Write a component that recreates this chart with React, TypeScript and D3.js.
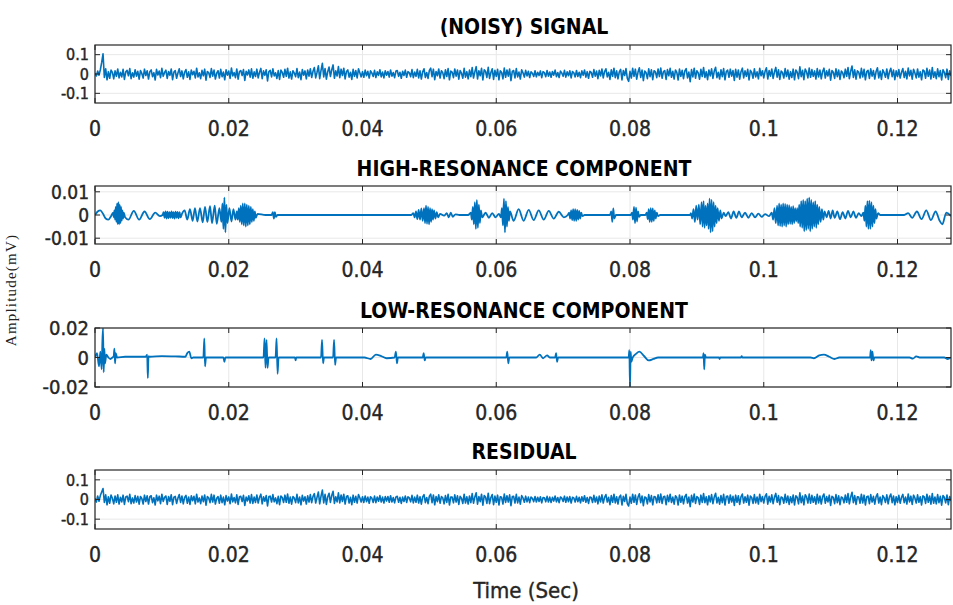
import React from "react";
import * as d3 from "d3";

// time axis (seconds)
const xTicks = [0, 0.02, 0.04, 0.06, 0.08, 0.1, 0.12];
const xTickLabels = ["0", "0.02", "0.04", "0.06", "0.08", "0.1", "0.12"];
const tMax = 0.128;
const sampleStep = 0.0002; // s, grid of the two noisy traces

// (noisy) signal, 1e-3 mV per unit
const noisySignal = [
  4, -10, 15, -6, 22, 60, 104, -18, 27, -30, 12, -22, 20, 8, -25, 16, -12, 26, -20, 9,
  -15, 24, -28, 11, 19, -9, 28, -24, 6, -16, 22, -11, 14, -27, 18, 3, -21, 25, -8, 17,
  -26, 12, 21, -14, 7, -31, 24, -5, 15, -19, 29, -12, 8, 20, -23, 13, -7, 26, -29, 10,
  18, -22, 5, 27, -13, 16, -25, 9, 23, -17, 11, -28, 21, -4, 14, -20, 30, -15, 6, -24,
  19, -9, 25, -32, 13, 7, -18, 28, -11, 20, -26, 4, 17, -21, 24, -14, 10, -30, 22, -6,
  15, -23, 31, -10, 8, -19, 26, -27, 12, 18, -8, 23, -33, 14, -5, 21, -16, 27, -22, 11,
  -13, 25, -20, 9, 29, -24, 16, -7, 22, -36, 13, 19, -15, 27, -10, 6, -23, 18, -28, 20,
  8, -17, 24, -12, 30, -21, 11, -26, 17, 5, -14, 28, -19, 10, -29, 23, -6, 16, -25, 21,
  -11, 27, -18, 14, 33, -20, 9, 42, -24, 19, 55, -15, 28, -27, 12, 36, -13, 22, 47, -22,
  16, -10, 38, -19, 25, -8, 30, -25, 13, 21, -16, 9, -28, 24, -12, 18, -20, 27, 7, -15,
  12, -17, 20, -9, 14, -21, 16, 5, -13, 19, -18, 11, -7, 22, -15, 10, -20, 17, -6, 13,
  -16, 21, -11, 8, -19, 15, 18, -12, 9, -22, 14, -8, 20, -17, 12, 6, -14, 23, -19, 10,
  -12, 24, -20, 16, -26, 11, 27, -18, 8, -23, 19, 30, -14, 25, -29, 13, -9, 26, -21, 17,
  7, -24, 22, -13, 28, -30, 15, 10, -19, 26, -11, 21, -27, 18, 4, -22, 29, -16, 12, -25,
  20, -14, 33, -21, 11, 38, -26, 17, -9, 29, -31, 22, 14, -18, 35, -23, 8, 27, -28, 19,
  -12, 24, -30, 16, 9, -25, 31, -17, 21, -11, 26, -34, 13, 18, -20, 28, -15, 10, -26, 22,
  6, -16, 19, -10, 14, -18, 11, 4, -13, 17, -15, 9, -8, 16, -19, 12, 7, -14, 18, -11,
  10, -17, 13, -6, 20, -14, 8, -18, 15, 5, -12, 19, -16, 11, -9, 17, -20, 13, 6, -15,
  18, -13, 9, -19, 16, -7, 21, -16, 12, -22, 14, 8, -17, 23, -11, 15, -24, 19, -10, 26,
  -20, 13, 27, -15, 9, -28, 22, -12, 30, -19, 16, -25, 11, 24, -31, 18, -8, 28, -23, -38,
  14, -21, 29, -12, 25, -27, 10, 32, -18, 20, -34, 15, 7, -24, 27, -14, 22, -29, 17, 11,
  -19, 26, -13, 31, -22, 12, 18, -28, 23, -9, 29, -17, 14, -26, 21, 8, -31, 25, -12, 19,
  -24, 16, 28, -20, 10, -40, 23, -15, 30, -22, 17, 6, -27, 24, -13, 33, -18, 12, -29, 21,
  -10, 27, -23, 15, 35, -19, 9, -26, 22, -14, 28, -30, 13, 20, -17, 25, -11, 18, -33, 24,
  -16, 21, -27, 12, 30, -20, 16, -12, 24, -31, 19, 8, -22, 27, -15, 11, -25, 29, -9, 17,
  -20, 14, 32, -26, 18, -11, 26, -23, 10, 34, -16, 22, -28, 15, 7, -21, 28, -13, 20, -27,
  12, -18, 25, -30, 21, 9, -24, 37, -14, 19, -29, 26, 11, -20, 31, -17, 23, -12, 16, -26,
  28, -15, 20, -25, 13, 30, -21, 17, -10, 24, -32, 18, 9, -23, 27, -14, 21, -28, 15, 6,
  -19, 25, -12, 33, -24, 14, 41, -18, 22, -27, 16, 10, -21, 29, -15, 24, -30, 12, 19, -23,
  27, -11, 18, -26, 13, 32, -20, 15, -28, 22, 7, -17, 26, -24, 11, 30, -14, 20, -29, 16,
  -13, 23, -21, 9, 28, -18, 14, -25, 31, -10, 19, -27, 24, 6, -20, 26, -16, 12, -30, 21,
  15, -22, 29, -12, 20, -26, 33, -17, 11, -24, 27, -14, 18, -31, 22, 9, -19, 25, -28, 17,
  -10,
];

// residual, 1e-3 mV per unit
const residual = [
  6, -13, 18, -9, 20, 38, 56, -15, 24, -27, 14, -19, 23, 6, -22, 18, -14, 24, -23, 11,
  -12, 22, -25, 13, 17, -11, 26, -21, 8, -18, 20, -13, 16, -24, 15, 5, -23, 22, -10, 19,
  -23, 14, 19, -16, 9, -28, 22, -7, 17, -21, 27, -10, 11, 18, -25, 15, -9, 24, -26, 12,
  16, -20, 7, 25, -15, 18, -22, 11, 21, -19, 13, -25, 19, -6, 16, -22, 27, -13, 8, -21,
  17, -11, 23, -29, 15, 9, -16, 26, -13, 22, -23, 6, 15, -19, 22, -16, 12, -27, 20, -8,
  13, -21, 28, -12, 10, -17, 24, -25, 14, 16, -10, 21, -30, 12, -7, 19, -18, 25, -20, 13,
  -15, 23, -18, 11, 27, -22, 14, -9, 20, -33, 15, 17, -13, 25, -12, 8, -21, 16, -26, 18,
  10, -15, 22, -14, 28, -19, 13, -24, 15, 7, -16, 26, -17, 12, -27, 21, -8, 14, -23, 19,
  -13, 25, -16, 16, 30, -18, 11, 38, -22, 17, 48, -17, 26, -25, 14, 32, -15, 20, 42, -20,
  14, -12, 34, -17, 23, -10, 27, -23, 15, 19, -18, 11, -26, 22, -14, 16, -18, 25, 9, -13,
  14, -15, 18, -11, 12, -19, 14, 7, -15, 17, -16, 13, -9, 20, -13, 12, -18, 15, -8, 15,
  -14, 19, -13, 10, -17, 13, 16, -14, 11, -20, 12, -10, 18, -15, 14, 8, -12, 21, -17, 12,
  -14, 22, -18, 14, -24, 13, 25, -16, 10, -21, 17, 27, -16, 23, -27, 15, -11, 24, -19, 15,
  9, -22, 20, -15, 26, -28, 13, 12, -17, 24, -13, 19, -25, 16, 6, -20, 27, -18, 14, -23,
  18, -16, 30, -19, 13, 34, -24, 15, -11, 27, -29, 20, 12, -20, 32, -21, 10, 25, -26, 17,
  -14, 22, -28, 14, 11, -23, 28, -15, 19, -13, 24, -31, 15, 16, -18, 26, -17, 12, -24, 20,
  8, -14, 17, -12, 12, -16, 13, 6, -11, 15, -13, 11, -10, 14, -17, 10, 9, -12, 16, -13,
  12, -15, 11, -8, 18, -12, 10, -16, 13, 7, -10, 17, -14, 13, -11, 15, -18, 11, 8, -13,
  16, -11, 11, -17, 14, -9, 19, -14, 10, -20, 12, 10, -15, 21, -13, 13, -22, 17, -12, 24,
  -18, 11, 25, -13, 11, -26, 20, -14, 27, -17, 14, -23, 13, 22, -28, 16, -10, 26, -21, -33,
  12, -19, 27, -14, 23, -25, 12, 29, -16, 18, -31, 13, 9, -22, 25, -12, 20, -27, 15, 13,
  -17, 24, -15, 28, -20, 14, 16, -26, 21, -11, 27, -15, 12, -24, 19, 10, -28, 23, -14, 17,
  -22, 14, 26, -18, 12, -36, 21, -13, 28, -20, 15, 8, -25, 22, -15, 30, -16, 14, -27, 19,
  -12, 25, -21, 13, 32, -17, 11, -24, 20, -16, 26, -28, 15, 18, -19, 23, -13, 16, -30, 22,
  -14, 19, -25, 14, 28, -18, 14, -14, 22, -29, 17, 10, -20, 25, -17, 13, -23, 27, -11, 15,
  -18, 16, 29, -24, 16, -13, 24, -21, 12, 31, -14, 20, -26, 13, 9, -19, 26, -15, 18, -25,
  14, -16, 23, -28, 19, 11, -22, 34, -16, 17, -27, 24, 13, -18, 28, -19, 21, -14, 14, -24,
  26, -17, 18, -23, 15, 28, -19, 15, -12, 22, -30, 16, 11, -21, 25, -16, 19, -26, 13, 8,
  -17, 23, -14, 30, -22, 12, 37, -16, 20, -25, 14, 12, -19, 27, -17, 22, -28, 14, 17, -21,
  25, -13, 16, -24, 15, 29, -18, 13, -26, 20, 9, -15, 24, -22, 13, 28, -16, 18, -27, 14,
  -15, 21, -19, 11, 26, -16, 12, -23, 28, -12, 17, -25, 22, 8, -18, 24, -14, 14, -28, 19,
  13, -20, 27, -14, 18, -24, 30, -19, 13, -22, 25, -16, 16, -29, 20, 11, -17, 23, -26, 15,
  -8,
];

// high-resonance component: [time ms, value 1e-4 mV]
const highResonance: [number, number][] = [
  [0, 0], [0.4, 15], [0.8, 20], [1.2, 5], [1.6, -15], [2.0, -20], [2.4, -5],
  [2.7, 10], [2.8, -10], [2.9, 20], [3.0, -20], [3.1, 35], [3.2, -30], [3.3, 50], [3.4, -40], [3.5, 55],
  [3.6, -40], [3.7, 45], [3.8, -35], [3.9, 35], [4.0, -25], [4.1, 20], [4.2, -15], [4.3, 10], [4.5, -10],
  [5.0, -20], [5.8, 18], [6.6, -20], [7.4, 15], [8.2, -18], [9.0, 10], [9.7, -5],
  [10.1, 0], [10.25, 12], [10.4, -12], [10.55, 15], [10.7, -15], [10.85, 14], [11.0, -14], [11.15, 12],
  [11.3, -12], [11.45, 15], [11.6, -13], [11.75, 12], [11.9, -15], [12.05, 14], [12.2, -12], [12.35, 13],
  [12.5, -14], [12.65, 12], [12.8, -10], [13.0, 5],
  [13.4, 20], [13.8, -20], [14.2, 25], [14.6, -25], [14.95, 30], [15.3, -28], [15.7, 30], [16.1, -32],
  [16.45, 35], [16.8, -30], [17.2, 38], [17.5, -35], [17.9, 40], [18.2, -38], [18.6, 30],
  [18.9, -30], [19.05, 50], [19.2, -60], [19.35, 75], [19.5, -75], [19.65, 45], [19.8, -35],
  [20.1, 30], [20.4, -28], [20.7, 25], [21.0, -20],
  [21.2, 15], [21.35, -20], [21.5, 30], [21.65, -30], [21.8, 40], [21.95, -40], [22.1, 50], [22.25, -45],
  [22.4, 50], [22.55, -50], [22.7, 45], [22.85, -45], [23.0, 40], [23.15, -40], [23.3, 35], [23.45, -30],
  [23.6, 25], [23.75, -25], [23.9, 15], [24.05, -12], [24.3, 5],
  [25.5, 0], [26.4, 0], [26.6, 12], [26.75, -15], [26.9, 12], [27.05, -8], [27.3, 0],
  [47.3, 0],
  [47.6, 8], [47.8, -10], [48.0, 15], [48.2, -18], [48.4, 22], [48.6, -20], [48.8, 28], [49.0, -25],
  [49.2, 30], [49.35, -35], [49.5, 40], [49.65, -38], [49.8, 35], [49.95, -40], [50.1, 30], [50.25, -30],
  [50.4, 25], [50.55, -20], [50.7, 20], [50.9, -15], [51.1, 12], [51.3, -10], [51.6, 5],
  [52.2, -3], [52.6, 8], [52.9, -10], [53.2, 10], [53.5, -8], [53.9, 3], [54.5, 0], [55.8, 0],
  [56.2, 10], [56.35, -20], [56.5, 35], [56.65, -40], [56.8, 55], [56.95, -60], [57.1, 65], [57.25, -55],
  [57.4, 45], [57.55, -35], [57.7, 20], [57.9, -10],
  [58.4, 10], [58.9, -12], [59.4, 8], [59.9, -10], [60.4, 5],
  [60.7, -10], [60.85, 30], [61.0, -45], [61.15, 70], [61.3, -75], [61.45, 60], [61.6, -50], [61.75, 35],
  [61.9, -25], [62.05, 15],
  [62.6, -25], [63.35, 25], [64.1, -25], [64.85, 22], [65.6, -22], [66.35, 20], [67.1, -20], [67.85, 18],
  [68.6, -16], [69.35, 14], [70.1, -10], [70.7, 0],
  [70.9, 10], [71.05, -15], [71.2, 20], [71.35, -22], [71.5, 25], [71.65, -25], [71.8, 25], [71.95, -25],
  [72.1, 22], [72.25, -20], [72.4, 18], [72.55, -15], [72.7, 10], [72.9, -5], [73.2, 0],
  [77.0, 0], [77.2, 15], [77.35, -30], [77.5, 28], [77.65, -15], [77.9, 0],
  [80.1, 0], [80.3, 10], [80.45, -20], [80.6, 35], [80.75, -35], [80.9, 32], [81.05, -28], [81.2, 15],
  [81.35, -8], [81.6, 0],
  [82.3, 0], [82.5, 10], [82.65, -18], [82.8, 25], [82.95, -30], [83.1, 30], [83.25, -30], [83.4, 28],
  [83.55, -25], [83.7, 20], [83.85, -15], [84.0, 10], [84.2, -5], [84.5, 0],
  [89.0, 0], [89.1, 8], [89.3, -15], [89.5, 25], [89.7, -30], [89.9, 40], [90.1, -20], [90.3, 45],
  [90.5, -40], [90.7, 55], [90.85, -50], [91.0, 60], [91.15, -55], [91.3, 40], [91.45, -45], [91.6, 50],
  [91.75, -60], [91.9, 70], [92.05, -75], [92.2, 65], [92.35, -70], [92.5, 55], [92.65, -50], [92.8, 40],
  [92.95, -35], [93.1, 30], [93.3, -25], [93.5, 20], [93.7, -15], [94.0, 10], [94.3, -5],
  [94.7, 12], [95.1, -15], [95.5, 15], [95.9, -12], [96.3, 15], [96.7, -10], [97.2, 10], [97.7, -12],
  [98.2, 8], [98.7, -10], [99.2, 6], [99.7, -8], [100.2, 4],
  [100.8, -5], [101.2, 10], [101.4, -20], [101.6, 30], [101.8, -35], [102.0, 40], [102.15, -45], [102.3, 50],
  [102.45, -48], [102.6, 45], [102.75, -50], [102.9, 50], [103.05, -45], [103.2, 48], [103.35, -50],
  [103.5, 45], [103.65, -40], [103.8, 42], [103.95, -38], [104.1, 35], [104.25, -40], [104.4, 38],
  [104.55, -35], [104.7, 30], [104.85, -28],
  [105.0, 30], [105.15, -35], [105.3, 45], [105.45, -50], [105.6, 60], [105.75, -55], [105.9, 65],
  [106.05, -70], [106.2, 60], [106.35, -65], [106.5, 70], [106.65, -60], [106.8, 75], [106.95, -70],
  [107.1, 65], [107.25, -60], [107.4, 55], [107.55, -50], [107.7, 60], [107.85, -55], [108.0, 45],
  [108.15, -40], [108.3, 35], [108.5, -30], [108.7, 25], [108.9, -20], [109.1, 15], [109.4, -10],
  [109.7, 18], [110.0, -15], [110.3, 20], [110.6, -12], [111.0, 15], [111.4, -18], [111.8, 12],
  [112.2, -15], [112.6, 18], [113.0, -10], [113.4, 15], [113.8, -12], [114.2, 8], [114.6, -5],
  [114.9, 10], [115.05, -25], [115.2, 40], [115.35, -50], [115.5, 60], [115.65, -60], [115.8, 62],
  [115.95, -60], [116.1, 55], [116.25, -50], [116.4, 40], [116.55, -35], [116.7, 25], [116.85, -15],
  [117.1, 8], [117.4, 0],
  [121.0, 0], [121.6, 8], [122.2, -12], [122.9, 15], [123.6, -18], [124.3, 20], [125.0, -22],
  [125.7, 15], [126.3, -25], [126.7, -40], [127.3, 10], [128, -5],
];

// low-resonance component: [time ms, value 1e-4 mV]
const lowResonance: [number, number][] = [
  [0, 0], [0.3, 30], [0.6, -60], [0.8, 40], [1.0, -80], [1.1, 100], [1.2, 200], [1.3, -100], [1.4, 60],
  [1.5, -40], [1.7, 20], [2.0, 0], [2.3, -10], [2.6, 0], [2.8, 10], [2.9, 60], [3.0, -40], [3.1, 30],
  [3.3, 0], [4.5, 5], [7.6, 5], [7.8, 20], [7.9, -140], [8.0, 10], [8.2, 5], [10.0, 10], [12.0, 8],
  [13.5, 5], [13.8, 30], [14.1, 40], [14.4, -5], [14.7, 0], [16.2, 0], [16.35, 130], [16.45, -60],
  [16.6, 0], [19.2, 0], [19.35, -30], [19.5, 0], [25.2, 0], [25.35, 130], [25.5, -70], [25.65, 120],
  [25.8, -70], [25.95, 0], [27.0, 0], [27.15, 130], [27.3, -110], [27.45, 0], [29.9, 0], [30.0, -20],
  [30.1, 0], [33.8, 0], [33.95, 120], [34.1, -40], [34.25, 0], [35.6, 0], [35.75, 120], [35.9, -50],
  [36.05, 0], [40.3, 0], [41.2, -10], [42.0, 20], [42.8, 10], [43.6, -5], [44.8, 0], [45.0, 40],
  [45.15, -40], [45.3, 0], [49.0, 0], [49.15, 30], [49.3, -20], [49.45, 0], [61.5, 0], [61.65, 40],
  [61.8, -40], [61.95, 0], [66.0, 0], [66.5, 20], [67.0, -5], [67.6, 15], [68.0, 0], [68.8, 0],
  [68.95, 30], [69.1, -30], [69.25, 0], [79.8, 0], [79.9, 50], [80.0, -200], [80.1, 40], [80.2, -30],
  [80.4, 0], [80.9, 25], [81.4, 40], [82.1, 10], [82.8, -20], [83.5, -10], [84.2, 0], [90.9, 0],
  [91.0, 30], [91.1, -80], [91.2, 20], [91.35, 0], [93.3, 0], [93.4, -10], [93.5, 0], [96.6, 0],
  [96.7, 10], [96.8, 0], [107.0, 0], [107.5, -5], [108.3, 15], [109.0, 20], [109.8, 5], [110.6, -10],
  [111.3, 0], [115.9, 0], [116.0, 50], [116.1, -20], [116.25, 40], [116.4, -20], [116.55, 0],
  [121.8, 0], [122.3, -8], [122.8, 8], [123.3, 0], [127.0, 0], [127.5, -10], [128, 0],
];

const LINE = "#0072BD";
const AXIS = "#262626";
const FONT = "'Liberation Sans Narrow', 'DejaVu Sans Condensed', 'Liberation Sans', Arial, sans-serif";

const X_LEFT = 95;
const X_RIGHT = 951;

type PanelProps = {
  id: string;
  title: string;
  titleY: number;
  top: number;
  bottom: number;
  yDomain: [number, number];
  yTicks: number[];
  yTickLabels: string[];
  yLabelSize: number;
  data: [number, number][];
  smooth: boolean;
  lineWidth: number;
};

function Panel(props: PanelProps) {
  const { id, title, titleY, top, bottom, yDomain, yTicks, yTickLabels, yLabelSize, data, smooth, lineWidth } = props;
  const x = d3.scaleLinear().domain([0, tMax]).range([X_LEFT, X_RIGHT]);
  const y = d3.scaleLinear().domain(yDomain).range([bottom, top]);
  const line = d3
    .line<[number, number]>()
    .x((d) => x(d[0]))
    .y((d) => y(d[1]))
    .curve(smooth ? d3.curveMonotoneX : d3.curveLinear);
  const tick = 5;

  return (
    <g>
      <defs>
        <clipPath id={id}>
          <rect x={X_LEFT} y={top} width={X_RIGHT - X_LEFT} height={bottom - top} />
        </clipPath>
      </defs>
      <rect x={X_LEFT} y={top} width={X_RIGHT - X_LEFT} height={bottom - top} fill="#fff" />
      {/* light grid */}
      {xTicks.map((t) => (
        <line key={"gx" + t} x1={x(t)} x2={x(t)} y1={top} y2={bottom} stroke="#e8e8e8" strokeWidth={1} />
      ))}
      {yTicks.map((t) => (
        <line key={"gy" + t} x1={X_LEFT} x2={X_RIGHT} y1={y(t)} y2={y(t)} stroke="#e8e8e8" strokeWidth={1} />
      ))}
      <path d={line(data) || ""} fill="none" stroke={LINE} strokeWidth={lineWidth} strokeLinejoin="round" clipPath={`url(#${id})`} />
      <rect x={X_LEFT} y={top} width={X_RIGHT - X_LEFT} height={bottom - top} fill="none" stroke={AXIS} strokeWidth={1.2} />
      {xTicks.map((t) => (
        <g key={"tx" + t}>
          <line x1={x(t)} x2={x(t)} y1={bottom} y2={bottom - tick} stroke={AXIS} />
          <line x1={x(t)} x2={x(t)} y1={top} y2={top + tick} stroke={AXIS} />
        </g>
      ))}
      {yTicks.map((t) => (
        <g key={"ty" + t}>
          <line x1={X_LEFT} x2={X_LEFT + tick} y1={y(t)} y2={y(t)} stroke={AXIS} />
          <line x1={X_RIGHT} x2={X_RIGHT - tick} y1={y(t)} y2={y(t)} stroke={AXIS} />
        </g>
      ))}
      {xTicks.map((t, i) => (
        <text key={"lx" + t} x={x(t)} y={bottom + 33} textAnchor="middle" fontSize={21} fill={AXIS}
          stroke={AXIS} strokeWidth={0.4} fontFamily={FONT}>
          {xTickLabels[i]}
        </text>
      ))}
      {yTicks.map((t, i) => (
        <text key={"ly" + t} x={X_LEFT - 6} y={y(t)} dy="0.36em" textAnchor="end" fontSize={yLabelSize} fill={AXIS}
          stroke={AXIS} strokeWidth={0.4} fontFamily={FONT}>
          {yTickLabels[i]}
        </text>
      ))}
      <text x={524} y={titleY} textAnchor="middle" fontSize={21} fontWeight="bold" fill="#000" fontFamily={FONT}>
        {title}
      </text>
    </g>
  );
}

export default function App() {
  const noisyPts: [number, number][] = noisySignal.map((v, i) => [i * sampleStep, v / 1000]);
  const residualPts: [number, number][] = residual.map((v, i) => [i * sampleStep, v / 1000]);
  const hrPts: [number, number][] = highResonance.map(([t, v]) => [t / 1000, v / 10000]);
  const lrPts: [number, number][] = lowResonance.map(([t, v]) => [t / 1000, v / 10000]);

  return (
    <svg width={953} height={605} style={{ position: "absolute", left: 0, top: 0, background: "#fff" }}>
      <rect width={953} height={605} fill="#fff" />
      <Panel id="c1" title="(NOISY) SIGNAL" titleY={34} top={45} bottom={103}
        yDomain={[-0.15, 0.15]} yTicks={[-0.1, 0, 0.1]} yTickLabels={["-0.1", "0", "0.1"]} yLabelSize={16}
        data={noisyPts} smooth={false} lineWidth={1.6} />
      <Panel id="c2" title="HIGH-RESONANCE COMPONENT" titleY={176} top={186} bottom={244}
        yDomain={[-0.0125, 0.0125]} yTicks={[-0.01, 0, 0.01]} yTickLabels={["-0.01", "0", "0.01"]} yLabelSize={19}
        data={hrPts} smooth={true} lineWidth={1.8} />
      <Panel id="c3" title="LOW-RESONANCE COMPONENT" titleY={318} top={328} bottom={387}
        yDomain={[-0.02, 0.02]} yTicks={[-0.02, 0, 0.02]} yTickLabels={["-0.02", "0", "0.02"]} yLabelSize={20}
        data={lrPts} smooth={true} lineWidth={1.8} />
      <Panel id="c4" title="RESIDUAL" titleY={459} top={470} bottom={529}
        yDomain={[-0.15, 0.15]} yTicks={[-0.1, 0, 0.1]} yTickLabels={["-0.1", "0", "0.1"]} yLabelSize={16}
        data={residualPts} smooth={false} lineWidth={1.6} />
      <text transform="translate(16,290) rotate(-90)" textAnchor="middle" fontSize={15} letterSpacing={1.2}
        fontFamily="'Liberation Serif', 'Times New Roman', serif" fill="#222">
        Amplitude(mV)
      </text>
      <text x={526} y={598} textAnchor="middle" fontSize={22} fill={AXIS} stroke={AXIS} strokeWidth={0.4} fontFamily={FONT}>
        Time (Sec)
      </text>
    </svg>
  );
}
